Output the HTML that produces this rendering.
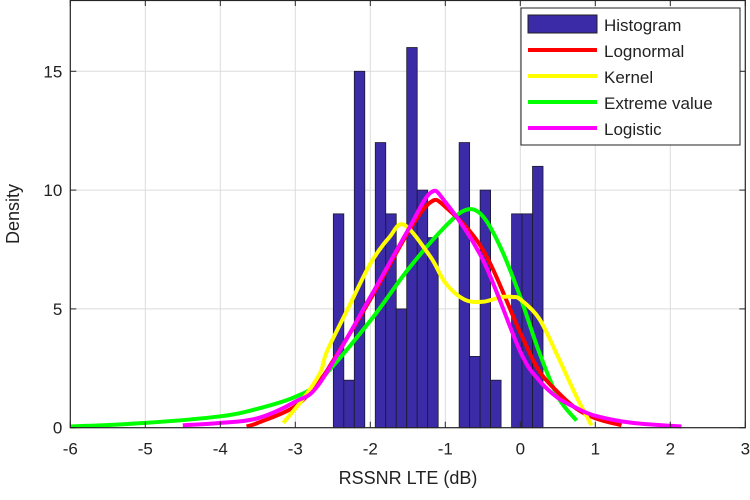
<!DOCTYPE html>
<html><head><meta charset="utf-8"><style>
html,body{margin:0;padding:0;background:#fff;}
svg{display:block;font-family:"Liberation Sans",sans-serif;}
</style></head><body>
<svg id="chart" width="750" height="500" viewBox="0 0 750 500" xmlns="http://www.w3.org/2000/svg">
<g id="grid"></g>
<g id="bars"></g>
<g id="curves"></g>
<g id="axes"></g>
<text x="408" y="484" font-size="18" text-anchor="middle" fill="#222">RSSNR LTE (dB)</text>
<text transform="translate(19,214) rotate(-90)" font-size="18" text-anchor="middle" fill="#222">Density</text>
<g>
<rect x="521" y="8" width="219" height="137" fill="#fff" stroke="#222" stroke-width="1"/>
<g><rect x="528" y="15" width="69" height="18" fill="#3b2ba6" stroke="#222"/><text x="604" y="31" font-size="17" fill="#222">Histogram</text></g>
<g><line x1="528" y1="50" x2="597" y2="50" stroke="#ff0000" stroke-width="4"/><text x="604" y="57" font-size="17" fill="#222">Lognormal</text></g>
<g><line x1="528" y1="76" x2="597" y2="76" stroke="#ffff00" stroke-width="4"/><text x="604" y="83" font-size="17" fill="#222">Kernel</text></g>
<g><line x1="528" y1="102" x2="597" y2="102" stroke="#00ff00" stroke-width="4"/><text x="604" y="109" font-size="17" fill="#222">Extreme value</text></g>
<g><line x1="528" y1="128" x2="597" y2="128" stroke="#ff00ff" stroke-width="4"/><text x="604" y="135" font-size="17" fill="#222">Logistic</text></g>
</g>
</svg>
<script>
const xTicks=[-6,-5,-4,-3,-2,-1,0,1,2,3];
const yTicks=[0,5,10,15];
const binStart=-2.493;
const binWidth=0.1398;
const counts=[9,2,15,0,12,9,5,16,10,8,0,0,12,3,10,2,0,9,9,11];
const lognormX=[-3.65,-3.5,-3,-2.67,-2.5,-2,-1.5,-1.2,-1,-0.5,0,0.25,0.5,0.75,1,1.35];
const lognormY=[0.05,0.2,0.9,2.0,2.8,5.4,8.2,9.48,9.3,7.5,4.0,2.4,1.5,0.8,0.4,0.1];
const kernelX=[-3.16,-2.9,-2.67,-2.58,-2.3,-2,-1.75,-1.55,-1.2,-1,-0.75,-0.5,-0.25,-0.1,0,0.25,0.5,0.75,0.95];
const kernelY=[0.2,1.2,2.3,3.2,5.0,6.9,8.0,8.54,7.2,6.1,5.4,5.3,5.5,5.5,5.4,4.6,3.0,1.3,0.1];
const extremeX=[-6,-5,-4,-3.5,-3,-2.67,-2,-1.5,-1,-0.72,-0.5,-0.25,0,0.25,0.5,0.75];
const extremeY=[0.05,0.2,0.48,0.8,1.3,2.0,4.5,6.65,8.47,9.17,8.9,7.5,5.5,3.2,1.3,0.3];
const logisticX=[-4.5,-4,-3.5,-3,-2.67,-2,-1.5,-1.2,-1,-0.5,0,0.25,0.5,0.75,1,1.5,2.15];
const logisticY=[0.1,0.2,0.4,1.1,1.9,5.5,8.3,9.88,9.5,7.07,3.2,2.0,1.26,0.83,0.5,0.2,0.05];

const L=70.3,R=745.3,T=0,B=427.7,XMIN=-6,XMAX=3,YMIN=0,YMAX=18;
const sx=v=>L+(v-XMIN)/(XMAX-XMIN)*(R-L);
const sy=v=>B-(v-YMIN)/(YMAX-YMIN)*(B-T);
const NS='http://www.w3.org/2000/svg';
function mk(tag,parent,attrs){const e=document.createElementNS(NS,tag);for(const k in attrs)e.setAttribute(k,attrs[k]);parent.appendChild(e);return e;}
const grid=document.getElementById('grid'),bars=document.getElementById('bars'),curves=document.getElementById('curves'),axes=document.getElementById('axes');
xTicks.forEach(t=>{
  const g=mk('line',grid,{x1:sx(t),x2:sx(t),y1:T,y2:B,stroke:'#dcdcdc','stroke-width':1});
  
  
});
yTicks.forEach(t=>{
  const g=mk('line',grid,{x1:L,x2:R,y1:sy(t),y2:sy(t),stroke:'#dcdcdc','stroke-width':1});
  
  
});
counts.forEach((c,i)=>{
  if(c<=0)return;
  const x0=sx(binStart+i*binWidth),x1=sx(binStart+(i+1)*binWidth);
  const r=mk('rect',bars,{x:x0,y:sy(c),width:x1-x0,height:sy(0)-sy(c),fill:'#3b2ba6',stroke:'#1a1a2a','stroke-width':0.8});
  
  
});
function curve(xs,ys,color,name){
  const P=xs.map((x,i)=>[sx(x),sy(ys[i])]);
  let d='M'+P[0][0].toFixed(1)+','+P[0][1].toFixed(1);
  for(let i=0;i<P.length-1;i++){
    const p0=P[Math.max(0,i-1)],p1=P[i],p2=P[i+1],p3=P[Math.min(P.length-1,i+2)];
    const c1x=p1[0]+(p2[0]-p0[0])/6,c1y=p1[1]+(p2[1]-p0[1])/6;
    const c2x=p2[0]-(p3[0]-p1[0])/6,c2y=p2[1]-(p3[1]-p1[1])/6;
    d+='C'+c1x.toFixed(1)+','+c1y.toFixed(1)+' '+c2x.toFixed(1)+','+c2y.toFixed(1)+' '+p2[0].toFixed(1)+','+p2[1].toFixed(1);
  }
  const p=mk('path',curves,{d:d,fill:'none',stroke:color,'stroke-width':4,'stroke-linejoin':'round'});
  
  
}
curve(extremeX,extremeY,'#00ff00','extreme-value-curve');
curve(lognormX,lognormY,'#ff0000','lognormal-curve');
curve(kernelX,kernelY,'#ffff00','kernel-curve');
curve(logisticX,logisticY,'#ff00ff','logistic-curve');
const box=mk('rect',axes,{x:L,y:T+0.5,width:R-L,height:B-T-0.5,fill:'none',stroke:'#262626','stroke-width':1.2});


xTicks.forEach(t=>{
  mk('line',axes,{x1:sx(t),x2:sx(t),y1:B,y2:B-6,stroke:'#262626'});
  mk('line',axes,{x1:sx(t),x2:sx(t),y1:T,y2:T+6,stroke:'#262626'});
  const tx=mk('text',axes,{x:sx(t),y:B+27,'font-size':17,'text-anchor':'middle',fill:'#222'});
  tx.textContent=t;
  
  
});
yTicks.forEach(t=>{
  mk('line',axes,{x1:L,x2:L+6,y1:sy(t),y2:sy(t),stroke:'#262626'});
  mk('line',axes,{x1:R,x2:R-6,y1:sy(t),y2:sy(t),stroke:'#262626'});
  const tx=mk('text',axes,{x:L-8,y:sy(t)+6,'font-size':17,'text-anchor':'end',fill:'#222'});
  tx.textContent=t;
  
  
});
</script>
</body></html>
